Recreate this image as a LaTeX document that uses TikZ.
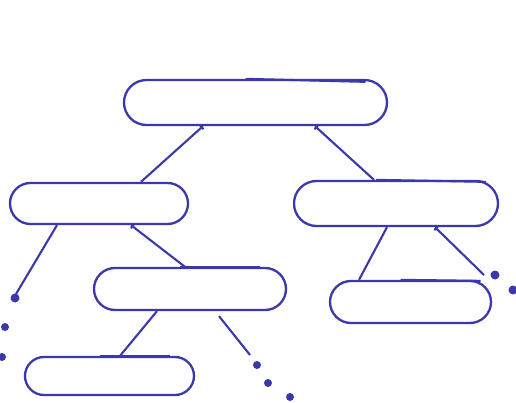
\documentclass[tikz,border=0pt]{standalone}
\usetikzlibrary{arrows.meta,shapes.misc}
\definecolor{ink}{HTML}{3A38AC}
\begin{document}
\begin{tikzpicture}[x=1pt,y=-1pt,
  pill/.style={rounded rectangle,draw=ink,line width=2.3pt,inner sep=0pt},
  link/.style={draw=ink,line width=2.1pt},
  up/.style={link,-{To[length=3pt,width=6pt]}},
  inkdot/.style={fill=ink}]
\fill[white] (0,0) rectangle (516,403);
\useasboundingbox (0,0) rectangle (516,403);
\node[pill,minimum width=263pt,minimum height=45pt] (top) at (255.5,102.5) {};
\node[pill,minimum width=178pt,minimum height=41pt] (L) at (99,203.5) {};
\node[pill,minimum width=204pt,minimum height=45pt] (R) at (396,203.5) {};
\node[pill,minimum width=192pt,minimum height=42pt] (M) at (190,289) {};
\node[pill,minimum width=161pt,minimum height=42pt] (RL) at (410.5,302) {};
\node[pill,minimum width=169pt,minimum height=38pt] (B) at (109.5,376) {};
% overshoot strokes of the pen
\draw[link] ([xshift=-10pt]top.north) -- ++(120,3);
\draw[link] ([xshift=-20pt]R.north) -- ++(110,2);
\draw[link] ([xshift=-10pt]M.north) -- ++(80,0);
\draw[link] ([xshift=-10pt]RL.north) -- ++(80,1);
\draw[link] ([xshift=-10pt]B.north) -- ++(70,0);
% free ends
\coordinate (e1) at (16,294);
\coordinate (e2) at (250,355);
\coordinate (e3) at (484,275);
% connectors
\draw[up] ([xshift=42pt]L.north) -- ([xshift=-52.5pt]top.south);
\draw[up] ([xshift=-22pt]R.north) -- ([xshift=59.5pt]top.south);
\draw[link] ([xshift=-42pt]L.south) -- (e1);
\draw[up] ([xshift=-5pt]M.north) -- ([xshift=32pt]L.south);
\draw[link] ([xshift=-33pt]M.south) -- ([xshift=10.5pt]B.north);
\draw[link] ([xshift=29pt,yshift=-5pt]M.south) -- (e2);
\draw[link] ([xshift=-9pt]R.south) -- ([xshift=-51.5pt]RL.north);
\draw[up] (e3) -- ([xshift=39pt]R.south);
% dots
\foreach \p/\r in {{(15,298)}/4.5, {(5,327)}/4, {(2,357)}/4, {(257,365)}/4, {(268,383)}/4, {(290,397)}/4, {(495,275)}/4.5, {(513,290)}/4.5}
  \fill[inkdot] \p circle (\r);
\end{tikzpicture}
\end{document}
